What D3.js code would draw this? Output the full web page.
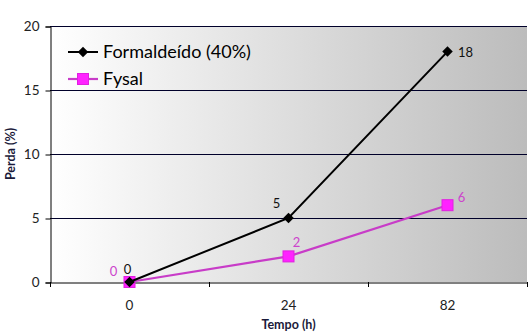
<!DOCTYPE html>
<html lang="en">
<head>
<meta charset="UTF-8">
<script src="https://d3js.org/d3.v7.min.js"></script>
<style>
  body { margin: 0; background: #fff; }
  svg { display: block; font-family: "Lato", "Open Sans", sans-serif; }
</style>
</head>
<body>
<svg id="chart" width="532" height="335"></svg>
<script>
// data
var tempos = ["0", "24", "82"];
var formaldeido = [0, 5, 18];
var fysal = [0, 2, 6];
var yTicks = [0, 5, 10, 15, 20];

var svg = d3.select("#chart");
var plotLeft = 50, plotRight = 527, plotTop = 26, plotBottom = 282;

var x = d3.scaleBand().domain(tempos).range([plotLeft, plotRight]);
var y = d3.scaleLinear().domain([0, 20]).range([plotBottom, plotTop]);

// background gradient
var grad = svg.append("defs").append("linearGradient")
  .attr("id", "bg").attr("x1", "0").attr("x2", "1").attr("y1", "0").attr("y2", "0");
grad.append("stop").attr("offset", "0").attr("stop-color", "#ffffff");
grad.append("stop").attr("offset", "1").attr("stop-color", "#bcbcbc");

svg.append("rect")
  .attr("x", plotLeft).attr("y", plotTop)
  .attr("width", plotRight - plotLeft).attr("height", plotBottom - plotTop)
  .attr("fill", "url(#bg)");

// grid lines
svg.append("g").selectAll("line").data(yTicks.slice(1)).enter().append("line")
  .attr("x1", plotLeft).attr("x2", plotRight)
  .attr("y1", function(d) { return Math.round(y(d)) + 0.5; })
  .attr("y2", function(d) { return Math.round(y(d)) + 0.5; })
  .attr("stroke", "#00002a").attr("stroke-width", 1);

// y axis
var yAxis = svg.append("g")
  .attr("transform", "translate(" + (plotLeft + 0.5) + ",0.5)")
  .call(d3.axisLeft(y).tickValues(yTicks).tickSize(5).tickPadding(6));
yAxis.select(".domain").attr("stroke", "#000");
yAxis.selectAll("text").attr("font-size", 13.5).attr("fill", "#222").attr("font-family", "Lato, sans-serif");

// x axis
var xAxis = svg.append("g")
  .attr("transform", "translate(0," + (plotBottom + 0.5) + ")")
  .call(d3.axisBottom(x).tickSize(0).tickPadding(18));
xAxis.select(".domain").attr("stroke", "#000");
xAxis.selectAll("text").attr("font-size", 13.5).attr("fill", "#222").attr("font-family", "Lato, sans-serif");
// tick marks between categories
svg.append("g").selectAll("line").data([plotLeft].concat(tempos.map(function(t) { return x(t) + x.bandwidth(); })))
  .enter().append("line")
  .attr("x1", function(d) { return Math.round(d) + 0.5; }).attr("x2", function(d) { return Math.round(d) + 0.5; })
  .attr("y1", plotBottom).attr("y2", plotBottom + 5)
  .attr("stroke", "#000");

// axis titles
svg.append("text")
  .attr("transform", "translate(11," + y(10) + ") rotate(-90)")
  .attr("text-anchor", "middle").attr("dy", "0.35em")
  .attr("font-size", 12.5).attr("font-weight", "bold").attr("fill", "#1a1a3a")
  .text("Perda (%)");
svg.append("text")
  .attr("x", x("24") + x.bandwidth() / 2).attr("y", 329)
  .attr("text-anchor", "middle")
  .attr("font-size", 12.5).attr("font-weight", "bold").attr("fill", "#1a1a3a")
  .text("Tempo (h)");

var cx = function(i) { return x(tempos[i]) + x.bandwidth() / 2; };

// fysal line
var line = d3.line().x(function(d, i) { return cx(i); }).y(function(d) { return y(d); });
svg.append("path").datum(fysal)
  .attr("d", line).attr("fill", "none")
  .attr("stroke", "#c83cc8").attr("stroke-width", 2.2);
svg.append("g").selectAll("rect").data(fysal).enter().append("rect")
  .attr("x", function(d, i) { return cx(i) - 5.5; })
  .attr("y", function(d) { return y(d) - 5.5; })
  .attr("width", 11).attr("height", 11)
  .attr("fill", "#ff22ff").attr("stroke", "#e020e0");

// formaldeido line
svg.append("path").datum(formaldeido)
  .attr("d", line).attr("fill", "none")
  .attr("stroke", "#000").attr("stroke-width", 2);
var diamond = d3.symbol().type(d3.symbolDiamond2).size(70);
svg.append("g").selectAll("path").data(formaldeido).enter().append("path")
  .attr("d", diamond)
  .attr("transform", function(d, i) { return "translate(" + cx(i) + "," + y(d) + ")"; })
  .attr("fill", "#000");

// data labels
var fLabelOff = [[-2, -12], [-12, -14], [18, 1]];
svg.append("g").selectAll("text").data(formaldeido).enter().append("text")
  .attr("x", function(d, i) { return cx(i) + fLabelOff[i][0]; })
  .attr("y", function(d) { return y(d); })
  .attr("dy", function(d, i) { return fLabelOff[i][1] + 4; })
  .attr("text-anchor", "middle").attr("font-size", 13).attr("fill", "#111")
  .text(function(d) { return d; });
var pLabelOff = [[-16, -10], [8, -13], [14, -7]];
svg.append("g").selectAll("text").data(fysal).enter().append("text")
  .attr("x", function(d, i) { return cx(i) + pLabelOff[i][0]; })
  .attr("y", function(d) { return y(d); })
  .attr("dy", function(d, i) { return pLabelOff[i][1] + 4; })
  .attr("text-anchor", "middle").attr("font-size", 13).attr("fill", "#cc44cc")
  .text(function(d) { return d; });

// legend
var legend = svg.append("g");
legend.append("line").attr("x1", 68).attr("x2", 98).attr("y1", 52).attr("y2", 52)
  .attr("stroke", "#000").attr("stroke-width", 2);
legend.append("path").attr("d", diamond).attr("transform", "translate(83,52)").attr("fill", "#000");
legend.append("text").attr("x", 103).attr("y", 52).attr("dy", "0.35em")
  .attr("font-size", 18).attr("fill", "#000").text("Formaldeído (40%)");
legend.append("line").attr("x1", 68).attr("x2", 98).attr("y1", 79).attr("y2", 79)
  .attr("stroke", "#c83cc8").attr("stroke-width", 2.2);
legend.append("rect").attr("x", 77.5).attr("y", 73.5).attr("width", 11).attr("height", 11)
  .attr("fill", "#ff22ff").attr("stroke", "#e020e0");
legend.append("text").attr("x", 103).attr("y", 79).attr("dy", "0.35em")
  .attr("font-size", 18).attr("fill", "#000").text("Fysal");
</script>
</body>
</html>
